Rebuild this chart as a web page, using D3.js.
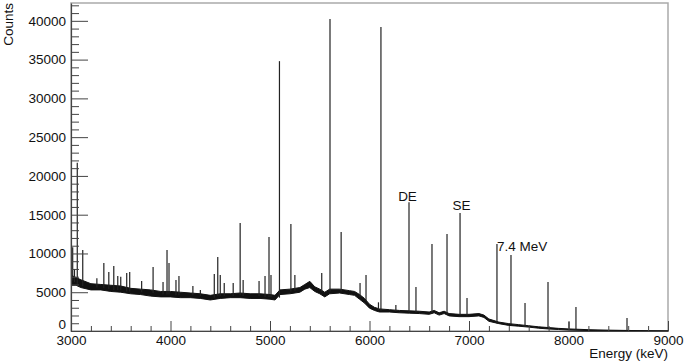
<!DOCTYPE html>
<html>
<head>
<meta charset="utf-8">
<script src="https://cdn.jsdelivr.net/npm/d3@7"></script>
<style>
  html, body { margin: 0; padding: 0; background: #fff; }
  svg { display: block; font-family: "Liberation Sans", Arial, Helvetica, sans-serif; }
</style>
</head>
<body>
<svg id="chart" width="685" height="363"></svg>
<script>
// ---- Data ----
const xDomain = [3000, 9000];
const yDomain = [0, 42300];
const xTickValues = d3.range(3000, 9001, 200);
const yTickValues = d3.range(0, 42001, 1000);
const xLabel = "Energy (keV)";
const yLabel = "Counts";

// Continuum (noisy band): energy, lower edge, upper edge
const bgEnergy = [3000,3050,3100,3200,3300,3400,3500,3600,3700,3800,3900,4000,4100,4200,4300,4400,4500,4600,4700,4800,4900,5000,5050,5100,5200,5300,5350,5400,5450,5500,5550,5600,5700,5800,5850,5900,5950,6000,6050,6100,6200,6300,6400,6500,6600,6650,6700,6750,6800,6900,7000,7100,7150,7200,7300,7400,7500,7600,7700,7800,7900,8000,8200,8400,8600,8800,9000];
const bgLow    = [5900,5900,5600,5300,5300,5100,5000,4800,4700,4500,4400,4400,4300,4300,4200,4000,4200,4300,4300,4200,4200,4100,4000,4700,4800,5000,5400,5600,5100,4800,4400,4800,4900,4700,4600,4100,3600,2950,2650,2450,2450,2350,2300,2250,2150,2350,2050,2250,1950,1850,1850,1950,1750,1250,950,720,620,500,360,260,190,120,60,30,10,0,0];
const bgHigh   = [7200,6900,6600,6100,6000,5900,5800,5500,5400,5300,5100,5100,5000,4900,4800,4600,4800,4800,4900,4800,4800,4700,4600,5300,5400,5600,6000,6400,5700,5400,5000,5400,5400,5200,5100,4700,4200,3450,3050,2850,2750,2650,2600,2550,2450,2650,2350,2550,2250,2150,2150,2250,2050,1550,1150,950,820,680,540,440,340,270,170,110,70,35,15];

// Peaks: energy, top counts, base counts
const peakEnergy = [3017,3035,3063,3118,3260,3330,3380,3430,3470,3500,3560,3590,3710,3825,3925,3965,3985,4055,4085,4225,4300,4440,4475,4500,4540,4630,4700,4730,4890,4950,4990,5010,5095,5210,5250,5520,5603,5715,5905,5965,6090,6115,6265,6397,6467,6628,6779,6910,6980,7281,7422,7563,7794,8005,8075,8588];
const peakTop    = [10800,8000,21700,10450,6800,8770,7600,8390,7100,7000,7480,7600,6450,8260,6320,10450,8770,6580,7100,5800,5300,7350,9550,7220,6200,6190,13930,6580,6450,7100,12130,7220,34800,13800,7220,7480,40250,12770,6190,7220,3700,39200,3350,16600,5680,11220,12510,15220,4260,11220,9800,3610,6320,1160,3100,1680];
const peakBase   = [6500,6300,6000,5800,5600,5500,5400,5300,5300,5300,5100,5100,5000,4900,4700,4700,4700,4600,4600,4600,4500,4300,4500,4500,4500,4500,4600,4500,4500,4400,4400,4400,4300,5100,5200,5100,5100,5100,4400,3900,2700,2600,2500,2450,2400,2300,2100,2000,2000,1000,850,700,350,200,150,40];

// Annotations: text, anchor energy, anchor counts
const annText   = ["DE", "SE", "7.4 MeV"];
const annEnergy = [6382, 6925, 7281];
const annCounts = [16765, 15600, 10320];
const annAnchor = ["middle", "middle", "start"];

// ---- Layout ----
const W = 685, H = 363;
const mLeft = 71, mRight = 668, mTop = 3, mBottom = 331;
const fontSize = 13.5;

const svg = d3.select("#chart");
svg.append("rect").attr("width", W).attr("height", H).attr("fill", "#fff");

const x = d3.scaleLinear().domain(xDomain).range([mLeft, mRight]);
const y = d3.scaleLinear().domain(yDomain).range([mBottom, mTop]);

svg.append("defs").append("clipPath").attr("id", "clip")
  .append("rect").attr("x", mLeft).attr("y", mTop).attr("width", mRight - mLeft).attr("height", mBottom - mTop);

// frame
svg.append("rect")
  .attr("x", mLeft).attr("y", mTop).attr("width", mRight - mLeft).attr("height", mBottom - mTop)
  .attr("fill", "none").attr("stroke", "#aaa").attr("stroke-width", 1.5);

const plot = svg.append("g").attr("clip-path", "url(#clip)");

// continuum band
const bg = bgEnergy.map((e, i) => ({e, lo: bgLow[i], hi: bgHigh[i]}));
plot.append("path")
  .datum(bg)
  .attr("fill", "#111")
  .attr("stroke", "#111")
  .attr("stroke-width", 1)
  .attr("d", d3.area().x(d => x(d.e)).y0(d => y(d.lo)).y1(d => y(d.hi)));

// peaks
const peaks = peakEnergy.map((e, i) => ({e, top: peakTop[i], base: peakBase[i]}));
plot.selectAll("line.peak").data(peaks).join("line")
  .attr("class", "peak")
  .attr("x1", d => x(d.e)).attr("x2", d => x(d.e))
  .attr("y1", d => y(d.base)).attr("y2", d => y(d.top))
  .attr("stroke", "#222").attr("stroke-width", 1.2);

// axes
const isMajorY = v => v % 5000 === 0;
const isMajorX = v => v % 1000 === 0;

const yAxis = d3.axisLeft(y).tickValues(yTickValues)
  .tickSizeInner(-17).tickSizeOuter(0).tickPadding(5)
  .tickFormat(v => isMajorY(v) ? String(v) : "");
const gy = svg.append("g").attr("transform", `translate(${mLeft},0)`).call(yAxis);
gy.selectAll(".tick line").attr("x2", d => isMajorY(d) ? 17 : 8);
// nudge the "0" label up slightly so it does not collide with "3000"
gy.selectAll(".tick text").filter(d => d === 0).attr("dy", "-0.22em");

const xAxis = d3.axisBottom(x).tickValues(xTickValues)
  .tickSizeInner(-10).tickSizeOuter(0).tickPadding(4)
  .tickFormat(v => isMajorX(v) ? String(v) : "");
const gx = svg.append("g").attr("transform", `translate(0,${mBottom})`).call(xAxis);
gx.selectAll(".tick line").attr("y2", d => isMajorX(d) ? -10 : -5);

[gx, gy].forEach(g => {
  g.selectAll("text").attr("font-size", fontSize).attr("fill", "#111")
    .attr("font-family", '"Liberation Sans", Arial, sans-serif');
  g.selectAll(".tick line").attr("stroke", "#444");
  g.select(".domain").attr("stroke", "#444").attr("stroke-width", 1.2);
});

// axis titles
svg.append("text")
  .attr("x", mRight).attr("y", 358)
  .attr("text-anchor", "end").attr("font-size", fontSize).attr("fill", "#111")
  .text(xLabel);
svg.append("text")
  .attr("transform", `translate(13,${mTop}) rotate(-90)`)
  .attr("text-anchor", "end").attr("font-size", fontSize).attr("fill", "#111")
  .text(yLabel);

// annotations
svg.selectAll("text.ann").data(annText).join("text")
  .attr("class", "ann")
  .attr("x", (d, i) => x(annEnergy[i]))
  .attr("y", (d, i) => y(annCounts[i]))
  .attr("text-anchor", (d, i) => annAnchor[i])
  .attr("font-size", fontSize).attr("fill", "#111")
  .text(d => d);
</script>
</body>
</html>
